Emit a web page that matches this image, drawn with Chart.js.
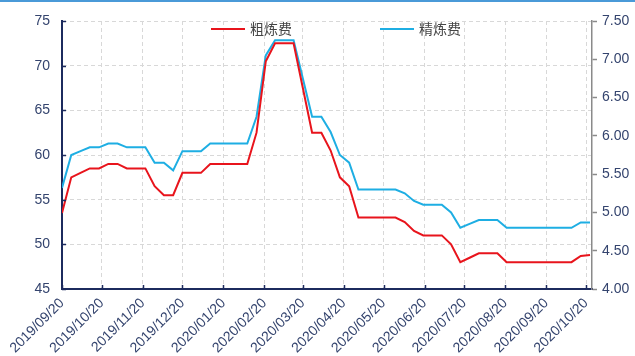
<!DOCTYPE html>
<html>
<head>
<meta charset="utf-8">
<script src="https://cdn.jsdelivr.net/npm/chart.js@4"></script>
<style>
  body { margin: 0; background: #fff; }
  #wrap { position: relative; width: 635px; height: 356px; }
  #topline { position: absolute; left: 0; top: 0; width: 635px; height: 2px; background: #4a9ad8; }
</style>
</head>
<body>
<div id="wrap">
  <canvas id="c" width="635" height="356"></canvas>
  <div id="topline"></div>
</div>
<script>
// weekly series, first week 2019/09/20
const firstDay = "2019/09/20";
const seriesNames = ["粗炼费", "精炼费"];

// 粗炼费 (left axis)
const roughFee = [
    53.5, 57.5, 58, 58.5, 58.5, 59, 59, 58.5, 58.5, 58.5,
    56.5, 55.5, 55.5, 58, 58, 58, 59, 59, 59, 59,
    59, 62.5, 70.5, 72.5, 72.5, 72.5, 67.5, 62.5, 62.5, 60.5,
    57.5, 56.5, 53, 53, 53, 53, 53, 52.5, 51.5, 51,
    51, 51, 50, 48, 48.5, 49, 49, 49, 48, 48,
    48, 48, 48, 48, 48, 48, 48.7, 48.8
];

// 精炼费 (right axis)
const refineFee = [
    5.32, 5.75, 5.8, 5.85, 5.85, 5.9, 5.9, 5.85, 5.85, 5.85,
    5.65, 5.65, 5.55, 5.8, 5.8, 5.8, 5.9, 5.9, 5.9, 5.9,
    5.9, 6.25, 7.05, 7.25, 7.25, 7.25, 6.75, 6.25, 6.25, 6.05,
    5.75, 5.65, 5.3, 5.3, 5.3, 5.3, 5.3, 5.25, 5.15, 5.1,
    5.1, 5.1, 5.0, 4.8, 4.85, 4.9, 4.9, 4.9, 4.8, 4.8,
    4.8, 4.8, 4.8, 4.8, 4.8, 4.8, 4.87, 4.87
];

const xTickLabels = [
    "2019/09/20", "2019/10/20", "2019/11/20", "2019/12/20", "2020/01/20",
    "2020/02/20", "2020/03/20", "2020/04/20", "2020/05/20", "2020/06/20",
    "2020/07/20", "2020/08/20", "2020/09/20", "2020/10/20"
];

const colors = ["#e8141c", "#1eaee3"];
const navy = "#1c2b5e";
const labelColor = "#34446e";

// days since first week
function dayOf(s) {
    const p = s.split("/").map(Number);
    const p0 = firstDay.split("/").map(Number);
    return (Date.UTC(p[0], p[1] - 1, p[2]) - Date.UTC(p0[0], p0[1] - 1, p0[2])) / 86400000;
}
const tickDays = xTickLabels.map(dayOf);

const roughPts = roughFee.map((v, i) => ({ x: i * 7, y: v }));
const refinePts = refineFee.map((v, i) => ({ x: i * 7, y: v }));

// legend + inward ticks drawn by hand
const extras = {
    id: "extras",
    afterDraw(chart) {
        const ctx = chart.ctx;
        const a = chart.chartArea;
        ctx.save();
        // inward ticks
        ctx.strokeStyle = navy;
        ctx.lineWidth = 1.5;
        const yl = chart.scales.y;
        yl.ticks.forEach(t => {
            const py = Math.round(yl.getPixelForValue(t.value)) + 0.5;
            ctx.beginPath(); ctx.moveTo(a.left, py); ctx.lineTo(a.left + 4, py); ctx.stroke();
        });
        const xs = chart.scales.x;
        tickDays.forEach(d => {
            const px = Math.round(xs.getPixelForValue(d)) + 0.5;
            ctx.beginPath(); ctx.moveTo(px, a.bottom); ctx.lineTo(px, a.bottom - 4); ctx.stroke();
        });
        // legend
        const lx = [a.left + 149, a.left + 318];
        ctx.font = "14px 'Noto Sans CJK SC'";
        ctx.textBaseline = "middle";
        chart.data.datasets.forEach((ds, i) => {
            ctx.strokeStyle = ds.borderColor;
            ctx.lineWidth = 2;
            ctx.beginPath(); ctx.moveTo(lx[i], a.top + 8); ctx.lineTo(lx[i] + 34, a.top + 8); ctx.stroke();
            ctx.fillStyle = "#454545";
            ctx.fillText(ds.label, lx[i] + 39, a.top + 8);
        });
        ctx.restore();
    }
};

new Chart(document.getElementById("c"), {
    type: "line",
    data: {
        datasets: [
            { label: seriesNames[0], data: roughPts, yAxisID: "y", borderColor: colors[0], borderWidth: 2, pointRadius: 0, tension: 0 },
            { label: seriesNames[1], data: refinePts, yAxisID: "y1", borderColor: colors[1], borderWidth: 2, pointRadius: 0, tension: 0 }
        ]
    },
    options: {
        responsive: false,
        animation: false,
        layout: { padding: { top: 21, left: 0, right: 0, bottom: 0 } },
        plugins: { legend: { display: false }, tooltip: { enabled: false } },
        scales: {
            x: {
                type: "linear",
                min: 0,
                max: 400.5,
                afterBuildTicks: s => { s.ticks = tickDays.map(v => ({ value: v })); },
                afterFit: s => { s.height = 67; },
                ticks: {
                    minRotation: 45, maxRotation: 45, padding: 6,
                    color: labelColor,
                    font: { family: "'Liberation Sans', Arial", size: 14 },
                    callback: (v, i) => xTickLabels[i]
                },
                grid: { color: "#d8d8d8", lineWidth: 1, drawTicks: false },
                border: { color: navy, width: 2, dash: [4, 3] }
            },
            y: {
                position: "left",
                min: 45, max: 75,
                afterFit: s => { s.width = 62; },
                ticks: {
                    stepSize: 5, padding: 12, color: labelColor,
                    font: { family: "'Liberation Sans', Arial", size: 14 }
                },
                grid: { color: "#d8d8d8", lineWidth: 1, drawTicks: false },
                border: { color: navy, width: 2, dash: [4, 3] }
            },
            y1: {
                position: "right",
                min: 4, max: 7.5,
                afterFit: s => { s.width = 43; },
                ticks: {
                    stepSize: 0.5, padding: 5, color: labelColor,
                    font: { family: "'Liberation Sans', Arial", size: 14 },
                    callback: v => v.toFixed(2)
                },
                grid: { drawOnChartArea: false, drawTicks: true, tickLength: 5, tickColor: "#8a8a8a", tickWidth: 1.5 },
                border: { color: "#8a8a8a", width: 1.5 }
            }
        }
    },
    plugins: [extras]
});
</script>
</body>
</html>
